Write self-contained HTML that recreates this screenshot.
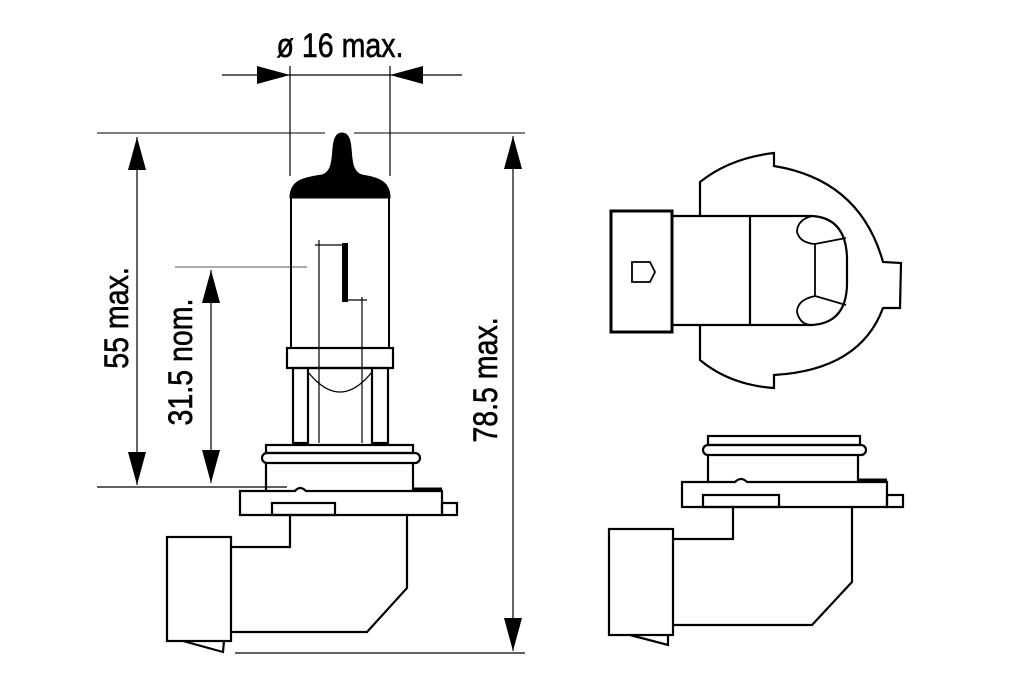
<!DOCTYPE html>
<html><head><style>html,body{margin:0;padding:0;background:#fff}svg{display:block}</style></head>
<body>
<svg width="1024" height="682" viewBox="0 0 1024 682" xmlns="http://www.w3.org/2000/svg">
<defs>
<marker id="a" viewBox="0 0 33 18" refX="33" refY="9" markerWidth="33" markerHeight="18" markerUnits="userSpaceOnUse" orient="auto"><path d="M0,0 L33,9 L0,18 Z" fill="#000"/></marker>
</defs>
<g fill="none" stroke="#000">
<g stroke-width="1.2">
<line x1="97" y1="133" x2="325" y2="133" stroke="#333"/>
<line x1="354" y1="133" x2="525" y2="133" stroke="#333"/>
<line x1="97" y1="487" x2="287" y2="487"/>
<line x1="175" y1="267" x2="307" y2="267" stroke="#777"/>
<line x1="235" y1="653" x2="525" y2="653"/>
<line x1="290" y1="66" x2="290" y2="176"/>
<line x1="390" y1="66" x2="390" y2="176"/>
<line x1="222" y1="75" x2="290" y2="75" marker-end="url(#a)"/>
<line x1="462" y1="75" x2="390" y2="75" marker-end="url(#a)"/>
<line x1="290" y1="75" x2="390" y2="75"/>
<line x1="137" y1="310" x2="137" y2="137" marker-end="url(#a)"/>
<line x1="137" y1="310" x2="137" y2="485" marker-end="url(#a)"/>
<line x1="211" y1="375" x2="211" y2="270" marker-end="url(#a)"/>
<line x1="211" y1="375" x2="211" y2="483" marker-end="url(#a)"/>
<line x1="513" y1="390" x2="513" y2="136" marker-end="url(#a)"/>
<line x1="513" y1="390" x2="513" y2="651" marker-end="url(#a)"/>
<line x1="319" y1="240" x2="319" y2="443"/>
<line x1="362" y1="297" x2="362" y2="443"/>
<line x1="315" y1="245" x2="343" y2="245"/>
<line x1="343" y1="300" x2="367" y2="300"/>
</g>
<path d="M291,348 L291,198 M389,348 L389,198" stroke-width="2"/>
<path d="M290,198 C290,182 300,178 322,175 C332,172 332,160 333,148 C334,137 337,133 342,133 C347,133 350,137 351,148 C352,160 352,172 362,175 C380,178 390,182 390,198 Z" fill="#000" stroke-width="1"/>
<rect x="342" y="243" width="6" height="59" fill="#000" stroke="none"/>
<g stroke-width="2.2">
<rect x="287" y="348" width="106" height="20"/>
<rect x="293" y="368" width="15" height="75"/>
<rect x="372" y="368" width="16" height="75"/>
<line x1="308" y1="368" x2="372" y2="368"/>
<path d="M308,372 Q340,412 372,372" stroke-width="1.3"/>
<rect x="266" y="445" width="147" height="8"/>
<rect x="262" y="453" width="158" height="10" rx="5"/>
<path d="M266,463 L266,490 M413,463 L413,490"/>
<path d="M240,491 L295,491 Q300,485 306,491 L442,491 L442,515 L240,515 Z"/>
<rect x="442" y="503" width="15" height="12"/>
<rect x="272" y="503" width="63" height="12"/>
<path d="M414,489 L442,489" stroke-width="3"/>
<path d="M290,515 L290,547 L231,547"/>
<rect x="167" y="537" width="64" height="104"/>
<path d="M407,515 L407,588 L367,632 L231,632"/>
<path d="M183,641 L223,652 L224,641"/>
</g>
<g stroke-width="2.2">
<rect x="611" y="211" width="61" height="121" stroke-width="3"/>
<path d="M632,262 L650,262 L655,272 L650,282 L632,282 Z" stroke-width="1.8"/>
<path d="M672,216 L812,216 Q846,218 847,258 L847,285 Q846,323 812,325 L672,325"/>
<line x1="750" y1="216" x2="750" y2="325"/>
<path d="M812,216 Q797,220 797,232 Q800,243 815,244 L846,238 M815,244 L815,296 L846,305 M815,296 Q797,300 797,312 Q800,325 812,325" stroke-width="1.8"/>
<path d="M700,216 L700,182 Q730,158 774,153 L774,166 Q860,180 883,262 L901,263 L900,308 L883,308 Q860,370 774,375 L774,388 Q730,385 700,360 L700,325"/>
</g>
<g stroke-width="2.2">
<rect x="708" y="436" width="152" height="9"/>
<rect x="703" y="445" width="163" height="10" rx="5"/>
<path d="M708,455 L708,483 M858,455 L858,483"/>
<path d="M682,482 L735,482 Q741,476 747,482 L887,482 L887,507 L682,507 Z"/>
<rect x="887" y="495" width="16" height="12"/>
<rect x="703" y="495" width="76" height="12"/>
<path d="M858,480 L887,480" stroke-width="3"/>
<path d="M733,507 L733,539 L673,539"/>
<rect x="609" y="529" width="64" height="106"/>
<path d="M852,507 L852,582 L812,625 L673,625"/>
<path d="M630,635 L668,645 L668,635"/>
</g>
</g>
<g font-family="'Liberation Sans', sans-serif" font-size="34" fill="#000" stroke="#000" stroke-width="0.6">
<text transform="translate(340,57) scale(0.84,1)" text-anchor="middle">ø 16 max.</text>
<text transform="translate(128,318) rotate(-90) scale(0.84,1)" text-anchor="middle">55 max.</text>
<text transform="translate(192,362) rotate(-90) scale(0.84,1)" text-anchor="middle">31.5 nom.</text>
<text transform="translate(497,380) rotate(-90) scale(0.84,1)" text-anchor="middle">78.5 max.</text>
</g>
</svg>
</body></html>
